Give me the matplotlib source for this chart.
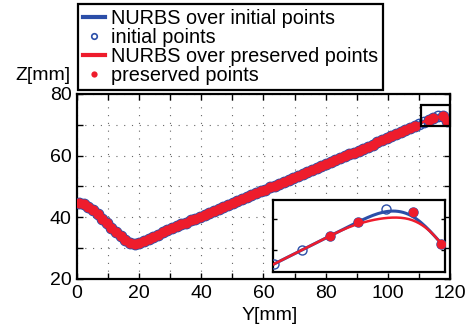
import numpy as np
import matplotlib
matplotlib.use('Agg')
import matplotlib.pyplot as plt
from matplotlib.lines import Line2D
from matplotlib.patches import Rectangle

plt.rcParams['font.family'] = 'Liberation Sans'

# initial measured points (Y, Z in mm)
y_init = [0.6, 2.1, 3.6, 5.1, 6.6, 8.1, 9.6, 11.1, 12.6, 14.1,
          15.6, 17.1, 18.6, 20.1, 21.6, 23.1, 24.6, 26.1, 27.6, 29.1,
          30.6, 32.1, 33.6, 35.1, 36.6, 38.1, 39.6, 41.1, 42.6, 44.1,
          45.6, 47.1, 48.6, 50.1, 51.6, 53.1, 54.6, 56.1, 57.6, 59.1,
          60.6, 62.1, 63.6, 65.1, 66.6, 68.1, 69.6, 71.1, 72.6, 74.1,
          75.6, 77.1, 78.6, 80.1, 81.6, 83.1, 84.6, 86.1, 87.6, 89.1,
          90.6, 92.1, 93.6, 95.1, 96.6, 98.1, 99.6, 101.1, 102.6, 104.1,
          105.6, 107.1, 108.6, 110.1, 111.6, 113.1, 114.6, 116.1, 117.6, 119.1]
z_init = [44.5, 44.2, 43.4, 42.3, 41.0, 39.6, 38.1, 36.6, 35.1, 33.8,
          32.6, 31.8, 31.4, 31.7, 32.3, 33.0, 33.7, 34.4, 35.1, 35.8,
          36.4, 37.1, 37.7, 38.3, 39.0, 39.6, 40.2, 40.9, 41.5, 42.1,
          42.7, 43.4, 44.0, 44.6, 45.3, 45.9, 46.5, 47.2, 47.8, 48.4,
          49.0, 49.7, 50.3, 50.9, 51.6, 52.2, 52.8, 53.5, 54.1, 54.7,
          55.3, 56.0, 56.6, 57.2, 57.9, 58.5, 59.1, 59.8, 60.4, 61.0,
          61.6, 62.3, 62.9, 63.6, 64.3, 65.0, 65.7, 66.4, 67.1, 67.8,
          68.45, 69.1, 69.75, 70.4, 71.05, 71.7, 72.35, 72.95, 72.8, 71.35]

# indices of initial points that were not preserved
dropped = [73, 74, 77]

x_ticks = [0, 10, 20, 30, 40, 50, 60, 70, 80, 90, 100, 110, 120]
x_labels = ['0', '', '20', '', '40', '', '60', '', '80', '', '100', '', '120']
y_ticks = [20, 30, 40, 50, 60, 70, 80]
y_labels = ['20', '', '40', '', '60', '', '80']

zoom_box = [110.7, 120, 69.6, 76.4]

keep = np.ones(len(y_init), dtype=bool)
keep[dropped] = False
y_pres = np.array(y_init)[keep]
z_pres = np.array(z_init)[keep]


def nurbs(px, pz, per=12):
    # uniform cubic B-spline with the end control points repeated
    px = np.concatenate([[px[0]] * 2, px, [px[-1]] * 2])
    pz = np.concatenate([[pz[0]] * 2, pz, [pz[-1]] * 2])
    t = np.linspace(0, 1, per)
    b = [(1 - t) ** 3 / 6, (3 * t**3 - 6 * t**2 + 4) / 6,
         (-3 * t**3 + 3 * t**2 + 3 * t + 1) / 6, t**3 / 6]
    xs, zs = [], []
    for i in range(len(px) - 3):
        xs.append(sum(b[j] * px[i + j] for j in range(4)))
        zs.append(sum(b[j] * pz[i + j] for j in range(4)))
    return np.concatenate(xs), np.concatenate(zs)


blue = '#2b4ea8'
red = '#ee1c2c'

cx_i, cz_i = nurbs(np.array(y_init), np.array(z_init))
cx_p, cz_p = nurbs(y_pres, z_pres)

fig = plt.figure(figsize=(4.7, 3.29), dpi=100)
ax = fig.add_axes([0.1638, 0.152, 0.7936, 0.5623])


def draw(a, ms, red_ms):
    a.plot(cx_i, cz_i, color=blue, lw=2.2, zorder=2)
    a.plot(y_init, z_init, ls='none', marker='o', ms=ms, mfc='none',
           mec=blue, mew=1.0, zorder=3)
    a.plot(cx_p, cz_p, color=red, lw=1.8, zorder=4)
    a.plot(y_pres, z_pres, ls='none', marker='o', ms=red_ms, color=red,
           mew=0, zorder=5)


draw(ax, 7.5, 7.3)
ax.set_xlim(0, 120)
ax.set_ylim(20, 80)
ax.set_xticks(x_ticks)
ax.set_xticklabels(x_labels)
ax.set_yticks(y_ticks)
ax.set_yticklabels(y_labels)
ax.grid(True, color='#666666', linestyle=(0, (1, 6)), linewidth=0.8, zorder=0)
ax.set_axisbelow(True)
ax.tick_params(direction='in', top=True, right=True, length=4, width=1,
               labelsize=14, pad=4)
for s in ax.spines.values():
    s.set_linewidth(1.6)

ax.add_patch(Rectangle((zoom_box[0], zoom_box[2]), zoom_box[1] - zoom_box[0],
                       zoom_box[3] - zoom_box[2], fill=False, ec='black',
                       lw=1.6, clip_on=False, zorder=6))

fig.text(70 / 470, 1 - 75 / 329, 'Z[mm]', ha='right', va='center', fontsize=14)
fig.text(270 / 470, 1 - 316 / 329, 'Y[mm]', ha='center', va='center', fontsize=14)

# zoomed view of the end of the curve
ins = fig.add_axes([0.5809, 0.1733, 0.366, 0.2188])
ins.set_facecolor('white')
draw(ins, 6.5, 6.8)
ins.set_xlim(110.05, 119.3)
ins.set_ylim(70.03, 73.37)
ins.set_xticks([])
ins.set_yticks([71.05, 72.5])
ins.set_yticklabels([])
ins.tick_params(direction='in', left=True, right=True, length=3, width=1)
for s in ins.spines.values():
    s.set_linewidth(1.6)

handles = [
    Line2D([], [], color=blue, lw=3),
    Line2D([], [], ls='none', marker='o', ms=4, mfc='none', mec=blue, mew=1.2),
    Line2D([], [], color=red, lw=3),
    Line2D([], [], ls='none', marker='o', ms=4.5, color=red, mew=0),
]
labels = ['NURBS over initial points', 'initial points',
          'NURBS over preserved points', 'preserved points']
leg = fig.legend(handles, labels, loc='upper left',
                 bbox_to_anchor=(78 / 470, 1 - 4 / 329), fontsize=14.3,
                 frameon=True, fancybox=False, edgecolor='black', framealpha=1,
                 borderpad=0.25, labelspacing=0.0, handlelength=1.1,
                 handletextpad=0.3, borderaxespad=0)
leg.get_frame().set_linewidth(1.6)

fig.savefig('out.png', dpi=100)
